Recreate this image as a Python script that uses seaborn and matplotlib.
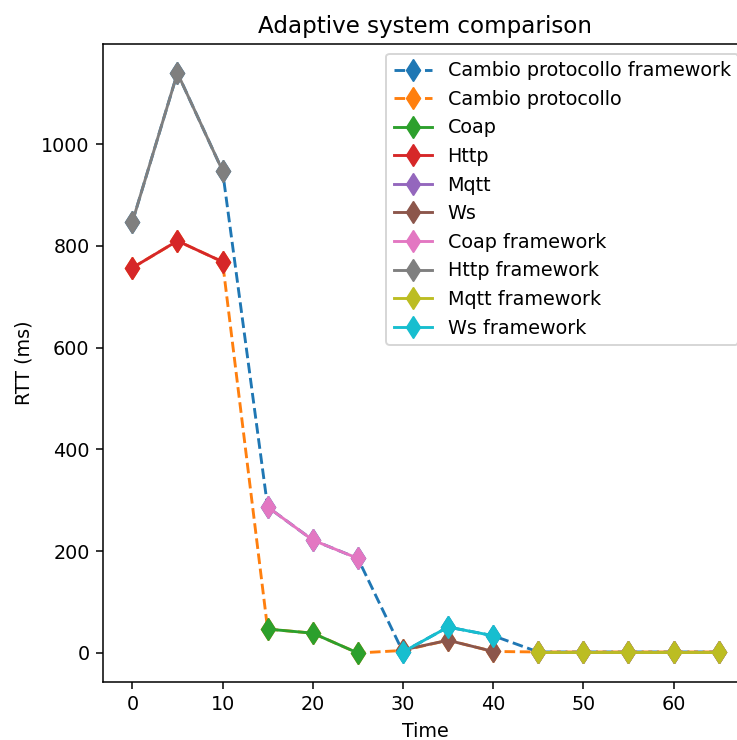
import matplotlib
matplotlib.use("Agg")
import matplotlib.pyplot as plt
import seaborn as sns
import pandas as pd

time_all = [0, 5, 10, 15, 20, 25, 30, 35, 40, 45, 50, 55, 60, 65]
cambio_framework = [847, 1140, 948, 287, 222, 186, 2, 51, 34, 2, 2, 2, 2, 2]
cambio = [757, 810, 769, 47, 39, 0, 5, 25, 3, 2, 2, 2, 2, 2]

t_http = [0, 5, 10]
t_coap = [15, 20, 25]
t_ws = [30, 35, 40]
t_mqtt = [45, 50, 55, 60, 65]

coap = [47, 39, 0]
http = [757, 810, 769]
mqtt = [2, 2, 2, 2, 2]
ws = [6, 25, 3]
coap_fw = [287, 222, 186]
http_fw = [847, 1140, 948]
mqtt_fw = [2, 2, 2, 2, 2]
ws_fw = [2, 51, 34]

series = [
    ("Cambio protocollo framework", time_all, cambio_framework, "--"),
    ("Cambio protocollo", time_all, cambio, "--"),
    ("Coap", t_coap, coap, "-"),
    ("Http", t_http, http, "-"),
    ("Mqtt", t_mqtt, mqtt, "-"),
    ("Ws", t_ws, ws, "-"),
    ("Coap framework", t_coap, coap_fw, "-"),
    ("Http framework", t_http, http_fw, "-"),
    ("Mqtt framework", t_mqtt, mqtt_fw, "-"),
    ("Ws framework", t_ws, ws_fw, "-"),
]

palette = sns.color_palette("tab10", 10)

dpi = 138
fig = plt.figure(figsize=(737 / dpi, 740 / dpi), dpi=dpi)
ax = fig.add_axes([103 / 737, 58 / 740, 645 / 737, 638 / 740])

for i, (name, t, v, ls) in enumerate(series):
    df = pd.DataFrame({"Time": t, "RTT": v})
    sns.lineplot(data=df, x="Time", y="RTT", ax=ax, color=palette[i],
                 marker="d", markersize=8, linestyle=ls, label=name,
                 markeredgecolor=palette[i])

ax.set_title("Adaptive system comparison")
ax.set_xlabel("Time")
ax.set_ylabel("RTT (ms)")
ax.legend(loc="upper right")

fig.savefig("out.png", dpi=dpi)
